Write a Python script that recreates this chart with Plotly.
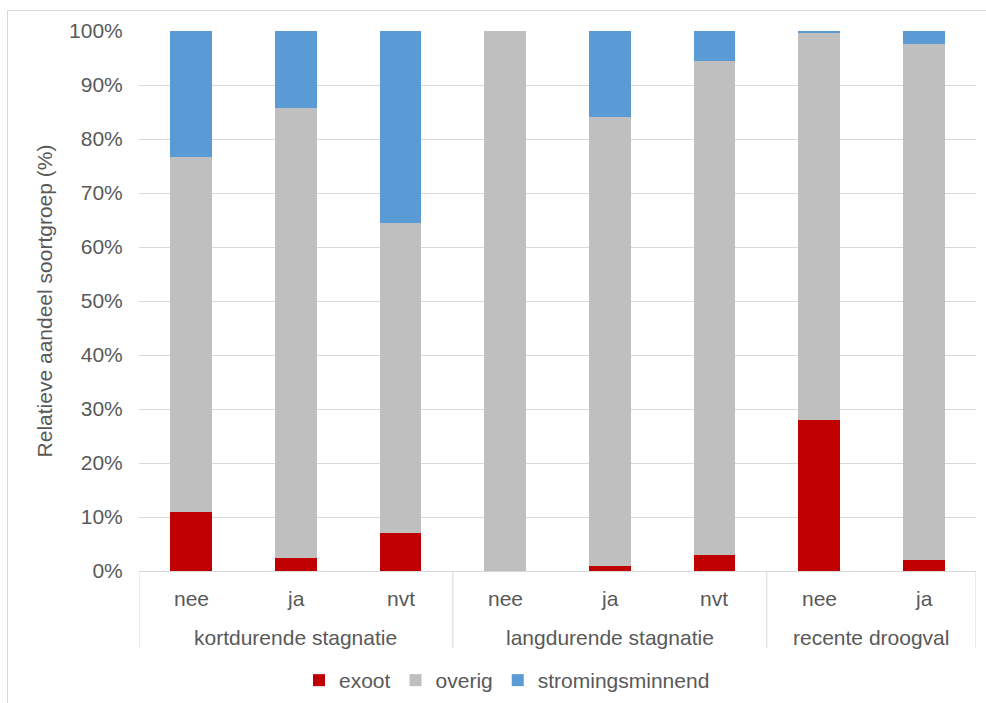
import plotly.graph_objects as go

# Categories: outer group and inner class
groups = ["kortdurende stagnatie"] * 3 + ["langdurende stagnatie"] * 3 + ["recente droogval"] * 2
classes = ["nee", "ja", "nvt", "nee", "ja", "nvt", "nee", "ja"]

# Relative share per species group (%)
exoot = [11.0, 2.5, 7.1, 0.0, 0.9, 2.9, 28.0, 2.1]
overig = [65.6, 83.3, 57.4, 100.0, 83.1, 91.5, 71.7, 95.5]
stromingsminnend = [23.4, 14.2, 35.5, 0.0, 16.0, 5.6, 0.3, 2.4]

y_tick_vals = list(range(0, 101, 10))
y_tick_text = [f"{v}%" for v in y_tick_vals]

FONT = "Liberation Sans, Arial, sans-serif"
TEXT = "#595959"
GRID = "#D9D9D9"
FS = 21

# unique category keys, one per bar
keys = [f"{g} | {c}" for g, c in zip(groups, classes)]

fig = go.Figure()
for name, vals, col in [
    ("exoot", exoot, "#C00000"),
    ("overig", overig, "#BFBFBF"),
    ("stromingsminnend", stromingsminnend, "#5B9BD5"),
]:
    fig.add_trace(go.Bar(
        x=keys, y=vals, name=name,
        marker=dict(color=col, line=dict(width=0)),
    ))

W, H = 986, 703
L, R, T, B = 139, 10, 31, 132
pw, ph = W - L - R, H - T - B
base = H - B  # pixel row of the x axis line


def py(y):
    """pixel row -> paper y"""
    return (base - y) / ph


def px(x):
    """pixel column -> paper x"""
    return (x - L) / pw


annotations = []
shapes = []

# inner class labels
for i, c in enumerate(classes):
    annotations.append(dict(x=i, xref="x", y=py(598), yref="paper",
                            text=c, showarrow=False, yanchor="middle",
                            font=dict(size=FS, color=TEXT)))

# outer group labels and dividers
order = []
for g in groups:
    if g not in order:
        order.append(g)
for g in order:
    idx = [i for i, gg in enumerate(groups) if gg == g]
    annotations.append(dict(x=(idx[0] + idx[-1]) / 2, xref="x", y=py(637),
                            yref="paper", text=g, showarrow=False,
                            yanchor="middle", font=dict(size=FS, color=TEXT)))
    shapes.append(dict(type="line", xref="x", yref="paper",
                       x0=idx[0] - 0.5, x1=idx[0] - 0.5, y0=0, y1=py(648),
                       line=dict(color=GRID, width=1)))
shapes.append(dict(type="line", xref="x", yref="paper",
                   x0=len(groups) - 0.5, x1=len(groups) - 0.5, y0=0, y1=py(648),
                   line=dict(color=GRID, width=1)))

# outer chart frame
shapes.append(dict(type="rect", xref="paper", yref="paper",
                   x0=px(7.5), y0=py(730), x1=px(1000), y1=py(10.5),
                   line=dict(color=GRID, width=1), layer="below"))

fig.update_layout(
    width=W, height=H,
    margin=dict(l=L, r=R, t=T, b=B, pad=0, autoexpand=False),
    barmode="stack", bargap=0.6,
    plot_bgcolor="white", paper_bgcolor="white",
    font=dict(family=FONT, size=FS, color=TEXT),
    showlegend=True,
    legend=dict(
        orientation="h", x=px(507), xanchor="center", y=py(660), yanchor="top",
        font=dict(size=FS, color=TEXT), traceorder="normal",
        itemwidth=30,
    ),
    xaxis=dict(
        type="category", showline=True, linecolor=GRID, linewidth=1,
        showgrid=False, ticks="", showticklabels=False,
        range=[-0.5, len(keys) - 0.5],
    ),
    yaxis=dict(
        range=[0, 100], tickvals=y_tick_vals, ticktext=y_tick_text,
        showgrid=True, gridcolor=GRID, gridwidth=1, zeroline=False,
        showline=False, ticks="outside", ticklen=11,
        tickcolor="rgba(0,0,0,0)", tickfont=dict(size=FS, color=TEXT),
        title=dict(text="Relatieve aandeel soortgroep (%)",
                   font=dict(size=FS, color=TEXT), standoff=10),
    ),
    annotations=annotations,
    shapes=shapes,
)

fig.write_html("out.html")
